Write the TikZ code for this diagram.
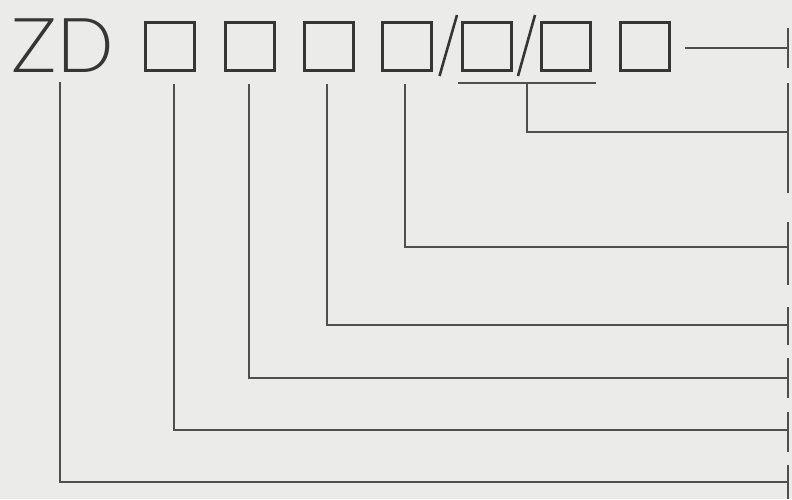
\documentclass[tikz,border=0pt]{standalone}
\usepackage{fontspec}
\setmainfont{Lato}[UprightFont={* Light}]
\begin{document}
\begin{tikzpicture}[x=1pt,y=-1pt,
  conn/.style={draw=linegray,line width=2.2pt},
  bar/.style={draw=linegray,line width=2.4pt},
  sq/.style={draw=boxgray,line width=3pt,minimum width=49pt,minimum height=48pt,inner sep=0pt},
  slash/.style={draw=boxgray,line width=2.6pt}]
\definecolor{bg}{HTML}{EBEBE9}
\definecolor{linegray}{HTML}{4F4F4F}
\definecolor{boxgray}{HTML}{363636}
\fill[bg] (0,0) rectangle (792,499);
\useasboundingbox (0,0) rectangle (792,499);
% text and boxes
\node[anchor=base west,inner sep=0pt,text=boxgray,font=\fontsize{76}{76}\selectfont] (zd) at (11,72) {ZD};
\node[sq] (b1) at (170,46.5) {};
\node[sq] (b2) at (249.5,46.5) {};
\node[sq] (b3) at (328.5,46.5) {};
\node[sq] (b4) at (407,46.5) {};
\node[sq] (b5) at (486.5,46.5) {};
\node[sq] (b6) at (565.5,46.5) {};
\node[sq] (b7) at (645,46.5) {};
\draw[slash] (439.5,76) -- (457,15);
\draw[slash] (518,76) -- (535,15);
% underline
\coordinate (ul) at (458,83);
\coordinate (ur) at (596,83);
\coordinate (um) at (527,83);
\draw[conn] (ul) -- (ur);
% start of the ZD connector
\coordinate (zs) at (60,82);
% right end points
\coordinate (r1) at (788,48);
\coordinate (r2) at (788,132);
\coordinate (r3) at (788,247);
\coordinate (r4) at (788,325);
\coordinate (r5) at (788,378);
\coordinate (r6) at (788,430);
\coordinate (r7) at (788,482);
% bar segments
\draw[bar] (788,28) -- (788,68);
\draw[bar] (788,83) -- (788,193);
\draw[bar] (788,222) -- (788,285);
\draw[bar] (788,307) -- (788,345);
\draw[bar] (788,358) -- (788,398);
\draw[bar] (788,412) -- (788,452);
\draw[bar] (788,465) -- (788,499);
% connectors
\draw[conn] ([xshift=13.5pt,yshift=-1.5pt]b7.east) -- (r1);
\draw[conn] (um) |- (r2);
\draw[conn] ([xshift=-2pt,yshift=-11.5pt]b4.south) |- (r3);
\draw[conn] ([xshift=-1.5pt,yshift=-11.5pt]b3.south) |- (r4);
\draw[conn] ([xshift=-0.5pt,yshift=-11.5pt]b2.south) |- (r5);
\draw[conn] ([xshift=4pt,yshift=-11.5pt]b1.south) |- (r6);
\draw[conn] (zs) |- (r7);
\end{tikzpicture}
\end{document}
